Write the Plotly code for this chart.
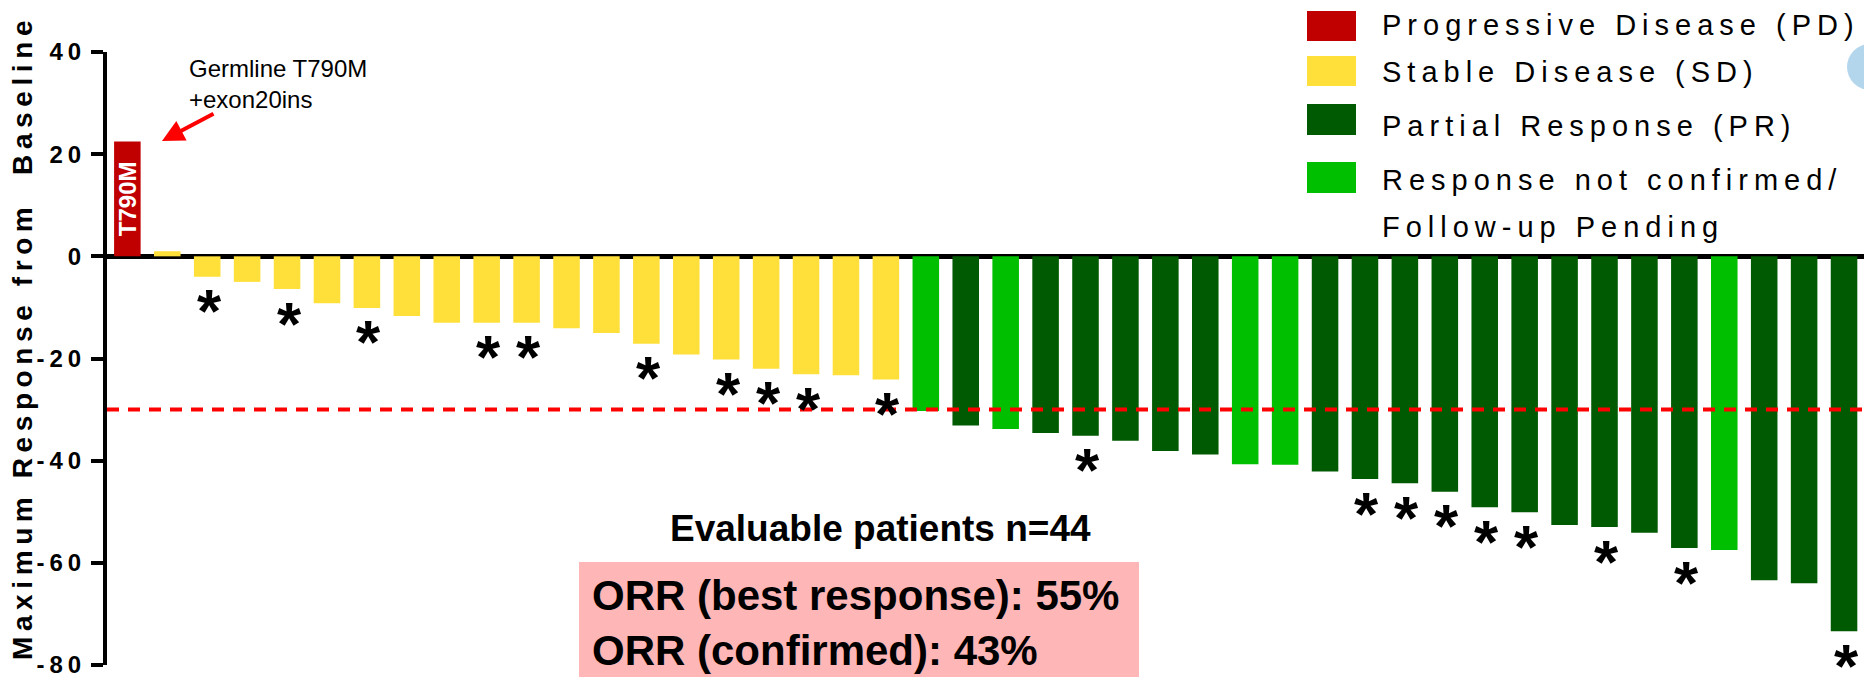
import plotly.graph_objects as go

# ---------------- data ----------------
patients = list(range(1, 45))
responses = [22.5, 1.0, -4.0, -5.0, -6.4, -9.2, -10.1, -11.7, -13.0, -13.0,
             -13.0, -14.1, -15.0, -17.1, -19.2, -20.2, -22.0, -23.1, -23.3, -24.1,
             -30.3, -33.1, -33.8, -34.6, -35.1, -36.1, -38.1, -38.8, -40.7, -40.8,
             -42.1, -43.6, -44.4, -46.1, -49.1, -50.1, -52.6, -53.0, -54.1, -57.1,
             -57.5, -63.4, -64.0, -73.4]
status = (["PD"] + ["SD"] * 19
          + ["RNC", "PR", "RNC", "PR", "PR", "PR", "PR", "PR", "RNC", "RNC"]
          + ["PR"] * 10 + ["RNC", "PR", "PR", "PR"])
asterisk_patients = [3, 5, 7, 10, 11, 14, 16, 17, 18, 20, 25,
                     32, 33, 34, 35, 36, 38, 40, 44]
status_order = ["PD", "SD", "PR", "RNC"]
status_labels = ["Progressive Disease (PD)", "Stable Disease (SD)",
                 "Partial Response (PR)", "Response not confirmed/", "Follow-up Pending"]
status_colors = {"PD": "#C00000", "SD": "#FFE03A", "PR": "#005A02", "RNC": "#00BE00"}
y_ticks = [-80, -60, -40, -20, 0, 20, 40]
threshold = -30
orr_lines = ["ORR (best response): 55%", "ORR (confirmed): 43%"]
n_text = "Evaluable patients n=44"
y_title = "Maximum Response from  Baseline"

# ---------------- layout geometry ----------------
IMG_W, IMG_H = 1864, 677
ML, MR, MT, MB = 107, 0, 52, 12
PW, PH = IMG_W - ML - MR, IMG_H - MT - MB
Y_RANGE = [-80, 40]
X_RANGE = [0.49, 44.5]
FONT = "Liberation Sans, Arial, Helvetica, sans-serif"


def px_x(px):
    return (px - ML) / PW


def px_y(py):
    return (IMG_H - MB - py) / PH


def spaced(txt, sp):
    return f'<span style="letter-spacing:{sp}px">{txt}</span>'


fig = go.Figure()

for st in status_order:
    xs = [p for p, s in zip(patients, status) if s == st]
    ys = [v for v, s in zip(responses, status) if s == st]
    fig.add_trace(go.Bar(x=xs, y=ys, width=0.665, name=st,
                         marker=dict(color=status_colors[st], line=dict(width=0)),
                         showlegend=False, hoverinfo="x+y"))

annotations = []
shapes = []

# asterisks below bars (anchored at the bar end, shifted down)
for p in patients:
    if p in asterisk_patients:
        annotations.append(dict(x=p + 0.05, y=responses[p - 1], xref="x", yref="y",
                                text="*", showarrow=False, yanchor="middle", xanchor="center",
                                yshift=-34,
                                font=dict(family=FONT, size=62, color="black", weight="bold")))

# threshold dashed line
shapes.append(dict(type="line", xref="paper", x0=0, x1=1, yref="y", y0=threshold, y1=threshold,
                   line=dict(color="#FF0000", width=4, dash="12px,9px"), layer="above"))
# ORR box
shapes.append(dict(type="rect", xref="paper", yref="paper",
                   x0=px_x(579), x1=px_x(1139), y0=px_y(690), y1=px_y(562),
                   fillcolor="#FFB6B6", line=dict(width=0), layer="below"))
# decorative blue circle at top right
shapes.append(dict(type="circle", xref="paper", yref="paper",
                   x0=px_x(1847), x1=px_x(1893), y0=px_y(90), y1=px_y(44),
                   fillcolor="#B3D6EC", line=dict(width=0), layer="above"))

# legend squares + texts
legend_rows = [(11, 41), (56, 86), (104, 135), (162, 193)]
for st, (t, b) in zip(status_order, legend_rows):
    shapes.append(dict(type="rect", xref="paper", yref="paper",
                       x0=px_x(1307), x1=px_x(1356), y0=px_y(b), y1=px_y(t),
                       fillcolor=status_colors[st], line=dict(width=0)))
legend_text_y = [25, 72, 126, 180, 227]
for lab, ty in zip(status_labels, legend_text_y):
    annotations.append(dict(xref="paper", yref="paper", x=px_x(1380), y=px_y(ty),
                            xanchor="left", yanchor="middle", showarrow=False,
                            text=spaced(lab, 6),
                            font=dict(family=FONT, size=29, color="black")))

# y axis title
annotations.append(dict(xref="paper", yref="paper", x=px_x(22), y=px_y(338),
                        xanchor="center", yanchor="middle", showarrow=False, textangle=-90,
                        text=spaced(y_title, 5.6),
                        font=dict(family=FONT, size=28, color="black", weight="bold")))

# T790M label inside red bar
annotations.append(dict(x=patients[0], y=responses[0] / 2, xref="x", yref="y",
                        text="T790M", textangle=-90, showarrow=False,
                        font=dict(family=FONT, size=24, color="white", weight="bold")))

# Germline note and arrow
annotations.append(dict(xref="paper", yref="paper", x=px_x(187), y=px_y(84),
                        xanchor="left", yanchor="middle", align="left", showarrow=False,
                        text="Germline T790M<br>+exon20ins",
                        font=dict(family=FONT, size=24, color="black")))
annotations.append(dict(xref="paper", yref="paper", x=px_x(162), y=px_y(141),
                        ax=53, ay=-28, text="", showarrow=True, arrowhead=2,
                        arrowsize=1.1, arrowwidth=4, arrowcolor="#FF0000"))

# evaluable patients
annotations.append(dict(xref="paper", yref="paper", x=px_x(880), y=px_y(528),
                        xanchor="center", yanchor="middle", showarrow=False,
                        text=n_text, font=dict(family=FONT, size=37, color="black", weight="bold")))
# ORR text
annotations.append(dict(xref="paper", yref="paper", x=px_x(590), y=px_y(623),
                        xanchor="left", yanchor="middle", align="left", showarrow=False,
                        text="<br>".join(orr_lines),
                        font=dict(family=FONT, size=42, color="black", weight="bold")))

fig.update_layout(
    width=IMG_W, height=IMG_H,
    margin=dict(l=ML, r=MR, t=MT, b=MB, pad=0),
    paper_bgcolor="white", plot_bgcolor="white",
    barmode="overlay",
    shapes=shapes, annotations=annotations,
    font=dict(family=FONT, color="black"),
    xaxis=dict(range=X_RANGE, visible=False, showgrid=False, zeroline=False, fixedrange=True),
    yaxis=dict(range=Y_RANGE, showgrid=False, zeroline=True, zerolinecolor="black",
               zerolinewidth=5, showline=True, linecolor="black", linewidth=4,
               ticks="outside", ticklen=12, tickwidth=4, tickcolor="black",
               tickvals=y_ticks, ticktext=[spaced(str(v), 5) for v in y_ticks],
               tickfont=dict(family=FONT, size=24, color="black", weight="bold"),
               ticklabelstandoff=0, ticklabeloverflow="allow", fixedrange=True),
)

fig.write_html("out.html", config={"displayModeBar": False},
               post_script="document.body.style.margin='0';")
